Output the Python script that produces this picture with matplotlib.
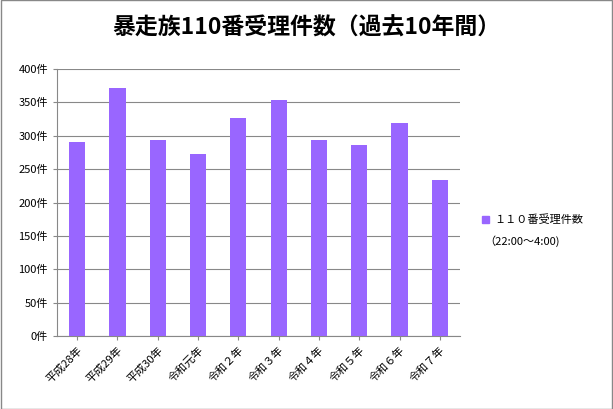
import matplotlib
matplotlib.use("Agg")
import matplotlib.pyplot as plt
from matplotlib.patches import Patch

plt.rcParams['font.family'] = ['Noto Sans CJK JP', 'DejaVu Sans']

categories = ['平成28年', '平成29年', '平成30年', '令和元年', '令和２年', '令和３年', '令和４年', '令和５年', '令和６年', '令和７年']
values = [291, 372, 293, 273, 326, 354, 293, 286, 319, 233]
yticks = [0, 50, 100, 150, 200, 250, 300, 350, 400]
ytick_labels = [f'{v}件' for v in yticks]
title = '暴走族110番受理件数（過去10年間）'
legend_label = '１１０番受理件数'
legend_sub = '（22:00～4:00)'

color = '#9966FF'
fig = plt.figure(figsize=(6.13, 4.09), dpi=100)
ax = fig.add_axes([57/613, 1-336/409, (460-57)/613, (336-69)/409])
x = range(len(categories))
ax.bar(x, values, width=0.4, color=color, zorder=3)
ax.set_ylim(0, 400)
ax.set_xlim(-0.5, len(categories)-0.5)
ax.set_yticks(yticks)
ax.set_yticklabels(ytick_labels, fontsize=8)
ax.set_xticks(list(x))
ax.set_xticklabels(categories, rotation=45, ha='right', rotation_mode='anchor', fontsize=8)
ax.grid(axis='y', color='#888888', linewidth=0.8, zorder=0)
for s in ['top', 'right']:
    ax.spines[s].set_visible(False)
ax.spines['left'].set_color('#888888')
ax.spines['bottom'].set_color('#888888')
ax.tick_params(length=3, color='#888888')
fig.text(0.5, 1-28/409, title, ha='center', va='center', fontsize=16.5, fontweight='bold')
fig.legend(handles=[Patch(color=color)], labels=[legend_label], loc='center left',
           bbox_to_anchor=(472/613, 1-220/409), frameon=False, fontsize=8, handlelength=0.6, handletextpad=0.5)
fig.text(484/613, 1-241/409, legend_sub, fontsize=8, va='center')
fig.patches.append(plt.Rectangle((0.001, 0.001), 0.998, 0.998, transform=fig.transFigure,
                                 fill=False, edgecolor='#888888', linewidth=1))
fig.savefig('out.png', dpi=100)
